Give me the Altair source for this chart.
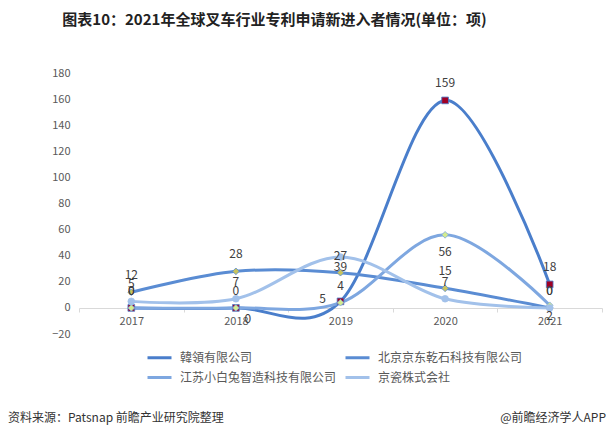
import altair as alt
import pandas as pd

years = ["2017", "2018", "2019", "2020", "2021"]
series = ["韓領有限公司", "北京京东乾石科技有限公司", "江苏小白兔智造科技有限公司", "京瓷株式会社"]
v_hanling = [0, 0, 5, 159, 18]
v_qianshi = [12, 28, 27, 15, 0]
v_xiaobaitu = [0, 0, 4, 56, 2]
v_jingci = [5, 7, 39, 7, 0]
y_ticks = [-20, 0, 20, 40, 60, 80, 100, 120, 140, 160, 180]

values = [v_hanling, v_qianshi, v_xiaobaitu, v_jingci]
rows = []
for s, vals in zip(series, values):
    for yr, v in zip(years, vals):
        rows.append({"year": yr, "series": s, "value": v})
df = pd.DataFrame(rows)

# legend order (column-major fill gives the reference's row layout)
legend_order = [series[0], series[2], series[1], series[3]]
line_colors = {series[0]: "#4A7ECB", series[1]: "#5A8CD3", series[2]: "#7EA7E0", series[3]: "#A2C1EA"}
marker_fill = {series[0]: "#A00024", series[1]: "#C9C45E", series[2]: "#D3EB8E", series[3]: "#A2C1EA"}
marker_shape = {series[0]: "square", series[1]: "diamond", series[2]: "diamond", series[3]: "circle"}

font = "Noto Sans CJK SC"

x_enc = alt.X("year:N", sort=years,
              scale=alt.Scale(type="band", paddingInner=0, paddingOuter=0),
              axis=alt.Axis(title=None, offset=-26, tickBand="extent", labelAngle=0,
                            domainColor="#D9D9D9", tickColor="#D9D9D9", tickSize=4,
                            labelPadding=3, labelColor="#595959", labelFontSize=11,
                            labelFont=font, grid=False))
y_enc = alt.Y("value:Q", scale=alt.Scale(domain=[-20, 180], nice=False, zero=False),
              axis=alt.Axis(title=None, values=y_ticks, grid=False, domain=False, ticks=False,
                            labelPadding=9, labelColor="#595959", labelFontSize=11,
                            labelFont=font))

base = alt.Chart(df)

lines = base.mark_line(interpolate="cardinal", strokeWidth=3).encode(
    x=x_enc, y=y_enc,
    color=alt.Color("series:N", sort=legend_order,
                    scale=alt.Scale(domain=legend_order, range=[line_colors[s] for s in legend_order]),
                    legend=alt.Legend(title=None, orient="none", legendX=67, legendY=271,
                                      columns=2, symbolType="stroke", symbolStrokeWidth=3,
                                      symbolSize=576, labelFont=font, labelFontSize=12,
                                      labelColor="#595959", columnPadding=2, rowPadding=-4,
                                      labelOffset=7)),
    detail="series:N",
)

points = base.mark_point(filled=True, size=45, opacity=1, strokeWidth=0.8).encode(
    x=x_enc, y=y_enc,
    fill=alt.Fill("series:N", scale=alt.Scale(domain=series, range=[marker_fill[s] for s in series]), legend=None),
    shape=alt.Shape("series:N", scale=alt.Scale(domain=series, range=[marker_shape[s] for s in series]), legend=None),
    stroke=alt.Stroke("series:N", scale=alt.Scale(domain=series, range=[line_colors[s] for s in series]), legend=None),
)

# label placement: default above the point, a few moved like in the reference
label_moves = [
    (series[2], "2020", 0, 17),
    (series[2], "2021", 0, 11),
    (series[3], "2019", 0, 10),
    (series[0], "2019", -18, -2),
    (series[0], "2018", 12, 11),
]

def cond(s, y):
    return f"datum.series == '{s}' && datum.year == '{y}'"

default_filter = " && ".join(f"!({cond(s, y)})" for s, y, _, _ in label_moves)
label_layers = [
    base.transform_filter(default_filter).mark_text(
        dy=-17, fontSize=12, font=font, color="#404040"
    ).encode(x=x_enc, y=y_enc, text="value:Q")
]
for s, y, dx, dy in label_moves:
    label_layers.append(
        base.transform_filter(cond(s, y)).mark_text(
            dx=dx, dy=dy, fontSize=12, font=font, color="#404040"
        ).encode(x=x_enc, y=y_enc, text="value:Q")
    )

footer_left = alt.Chart(pd.DataFrame({"t": ["资料来源：Patsnap 前瞻产业研究院整理"]})).mark_text(
    align="left", baseline="middle", fontSize=12, font=font, color="#333333"
).encode(x=alt.value(-71), y=alt.value(345), text="t:N")

footer_right = alt.Chart(pd.DataFrame({"t": ["@前瞻经济学人APP"]})).mark_text(
    align="right", baseline="middle", fontSize=12, font=font, color="#333333"
).encode(x=alt.value(527), y=alt.value(345), text="t:N")

chart = alt.layer(lines, points, *label_layers, footer_left, footer_right).properties(
    width=523, height=261,
    padding={"left": 0, "top": 5, "right": 0, "bottom": 2},
    title=alt.TitleParams("图表10：2021年全球叉车行业专利申请新进入者情况(单位：项)",
                          font=font, fontSize=15, fontWeight="bold", color="#222222",
                          anchor="middle", dx=-66, offset=39),
).resolve_scale(
    color="independent"
).configure_view(stroke=None)

chart.save("out.html", embed_options={"renderer": "svg", "actions": False})
